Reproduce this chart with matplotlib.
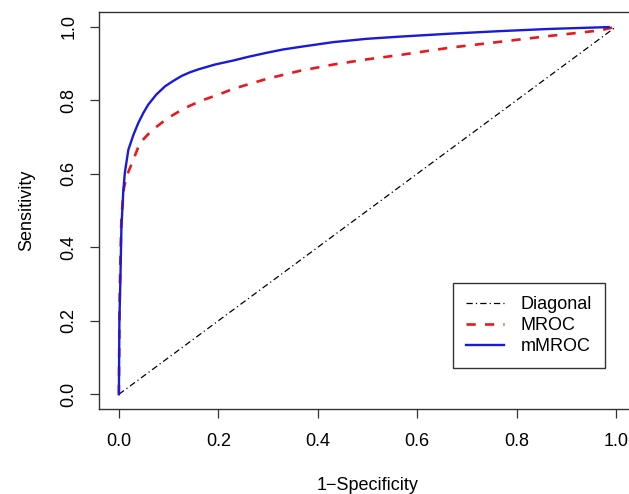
import matplotlib
matplotlib.use("Agg")
from matplotlib import pyplot as plt

plt.rcParams['font.family'] = ['Liberation Sans', 'DejaVu Sans']

# diagonal reference line
diag_x = [0.0, 1.0]
diag_y = [0.0, 1.0]

# MROC curve (red dashed)
mroc_fpr = [0.0, 0.001, 0.002, 0.005, 0.01, 0.0155, 0.029, 0.042, 0.057, 0.072, 0.099, 0.133,
            0.166, 0.20, 0.23, 0.297, 0.364, 0.431, 0.498, 0.565, 0.666, 0.767, 0.867, 0.968, 1.0]
mroc_sens = [0.0, 0.2, 0.3, 0.48, 0.56, 0.593, 0.638, 0.683, 0.705, 0.724, 0.752, 0.779,
             0.799, 0.815, 0.831, 0.858, 0.880, 0.897, 0.911, 0.923, 0.943, 0.959, 0.975, 0.99, 1.0]

# mMROC curve (blue solid)
mmroc_fpr = [0.0, 0.001, 0.003, 0.005, 0.0087, 0.012, 0.019, 0.029, 0.039, 0.049, 0.059, 0.075,
             0.093, 0.11, 0.126, 0.143, 0.160, 0.193, 0.23, 0.26, 0.297, 0.33, 0.364, 0.431,
             0.498, 0.565, 0.666, 0.767, 0.867, 0.985]
mmroc_sens = [0.0, 0.2, 0.31, 0.45, 0.55, 0.603, 0.665, 0.705, 0.738, 0.765, 0.788, 0.815,
              0.838, 0.853, 0.866, 0.876, 0.884, 0.897, 0.908, 0.918, 0.929, 0.938, 0.945, 0.958,
              0.967, 0.973, 0.981, 0.988, 0.994, 0.999]

ticks = [0.0, 0.2, 0.4, 0.6, 0.8, 1.0]
tick_labels = ["0.0", "0.2", "0.4", "0.6", "0.8", "1.0"]

fig = plt.figure(figsize=(6.29, 4.94), dpi=100)
ax = fig.add_axes([99 / 629, 85 / 494, 537 / 629, 397 / 494])

ax.plot(diag_x, diag_y, color="black", lw=0.9, dashes=(5, 2.5, 1, 2.5), label="Diagonal")
ax.plot(mroc_fpr, mroc_sens, color="#e8191c", lw=1.9, dashes=(3.5, 3.5), label="MROC")
ax.plot(mmroc_fpr, mmroc_sens, color="#1a1adb", lw=1.7, label="mMROC")

ax.set_xlim(-0.04, 1.04)
ax.set_ylim(-0.04, 1.04)
ax.set_xticks(ticks)
ax.set_xticklabels(tick_labels)
ax.set_yticks(ticks)
ax.set_yticklabels(tick_labels, rotation=90, va="center")
ax.tick_params(direction="out", length=6.5, width=0.9, labelsize=13, color="#333333")
ax.tick_params(axis="x", pad=11)
ax.tick_params(axis="y", pad=9)
for s in ax.spines.values():
    s.set_color("#333333")
    s.set_linewidth(1.0)
ax.spines["right"].set_visible(False)  # falls outside the cropped picture

ax.set_xlabel("1\u2212Specificity", fontsize=13, labelpad=19)
ax.set_ylabel("Sensitivity", fontsize=13, labelpad=18)

leg = ax.legend(loc="upper left", bbox_to_anchor=(0.659, 0.317), borderaxespad=0,
                fancybox=False, edgecolor="#333333", framealpha=1, fontsize=13,
                handlelength=2.1, handletextpad=0.95, labelspacing=0.22, borderpad=0.72)
leg.get_frame().set_linewidth(1.0)

fig.savefig("out.png", dpi=100)
